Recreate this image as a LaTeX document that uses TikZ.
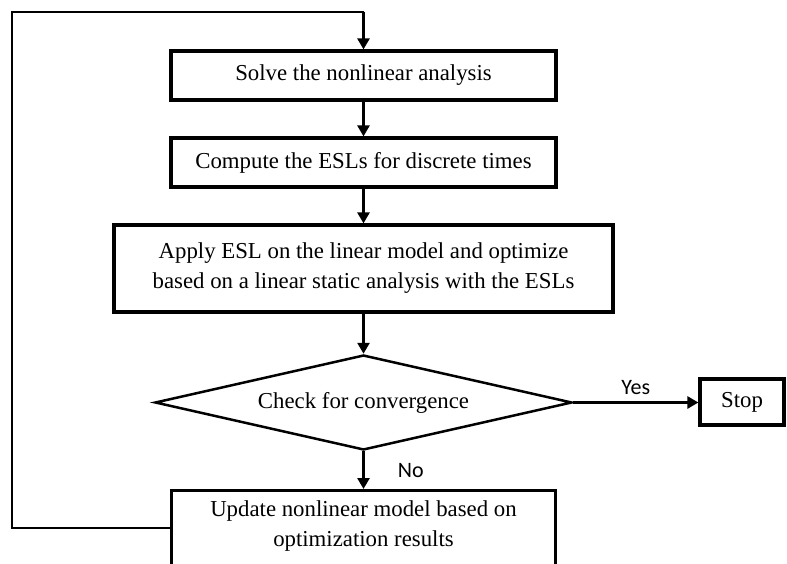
\documentclass[tikz,border=0pt]{standalone}
\usepackage{fontspec}
\setmainfont{Liberation Serif}
\newfontfamily\labelfont{Carlito}
\usetikzlibrary{arrows.meta,shapes.geometric}
\tikzset{
  boxnode/.style={draw=black, line width=3.2pt, inner sep=0pt, align=center, font=\fontsize{22.8}{30}\selectfont},
  txtnode/.style={inner sep=0pt, align=center, font=\fontsize{22.8}{30}\selectfont},
  decision/.style={draw=black, line width=2.5pt, diamond, inner sep=0pt, shape aspect=4.39, minimum width=417pt, minimum height=95pt, font=\fontsize{22.8}{30}\selectfont},
  conn/.style={line width=2.6pt, -{Triangle[length=11pt,width=12pt]}},
  plainline/.style={line width=2.6pt},
  lbl/.style={font=\labelfont\fontsize{22}{26}\selectfont, inner sep=0pt}
}
\begin{document}
\begin{tikzpicture}[x=1pt,y=-1pt]
\useasboundingbox (0,0) rectangle (787,564);
\clip (0,0) rectangle (787,564);
\node[boxnode, minimum width=385pt, minimum height=49pt] (solve) at (363.5,75.5) {Solve the nonlinear analysis};
\node[boxnode, minimum width=385pt, minimum height=49pt] (esl) at (363.5,162.5) {Compute the ESLs for discrete times};
\node[boxnode, minimum width=499pt, minimum height=87pt] (apply) at (363.5,268.5) {Apply ESL on the linear model and optimize\\based on a linear static analysis with the ESLs};
\node[decision] (check) at (363.5,402.5) {Check for convergence};
\node[boxnode, minimum width=84pt, minimum height=46pt] (stop) at (742,402) {Stop};
\node[boxnode, minimum width=384pt, minimum height=95pt, anchor=north] (upd) at (363.5,489) {};
\node[txtnode] (updtxt) at (363.5,526) {Update nonlinear model based on\\optimization results};
\coordinate (updleft) at (172,528);
\coordinate (cornerbl) at (12,528);
\coordinate (cornertl) at (12,12);
\coordinate (topmid) at (363.5,12);
\draw[conn] (solve) -- (esl);
\draw[conn] (esl) -- (apply);
\draw[conn] (apply) -- (check);
\draw[conn] (check.east) -- (check.east -| stop.west) node[lbl, midway, above=7pt] (yes) {Yes};
\draw[conn] (check.south) -- (upd.north) node[lbl, midway, right=33pt] (no) {No};
\draw[plainline, line join=miter] (updleft) -- (cornerbl) -- (cornertl) -- (topmid);
\draw[conn] (topmid) -- (solve.north);
\end{tikzpicture}
\end{document}
